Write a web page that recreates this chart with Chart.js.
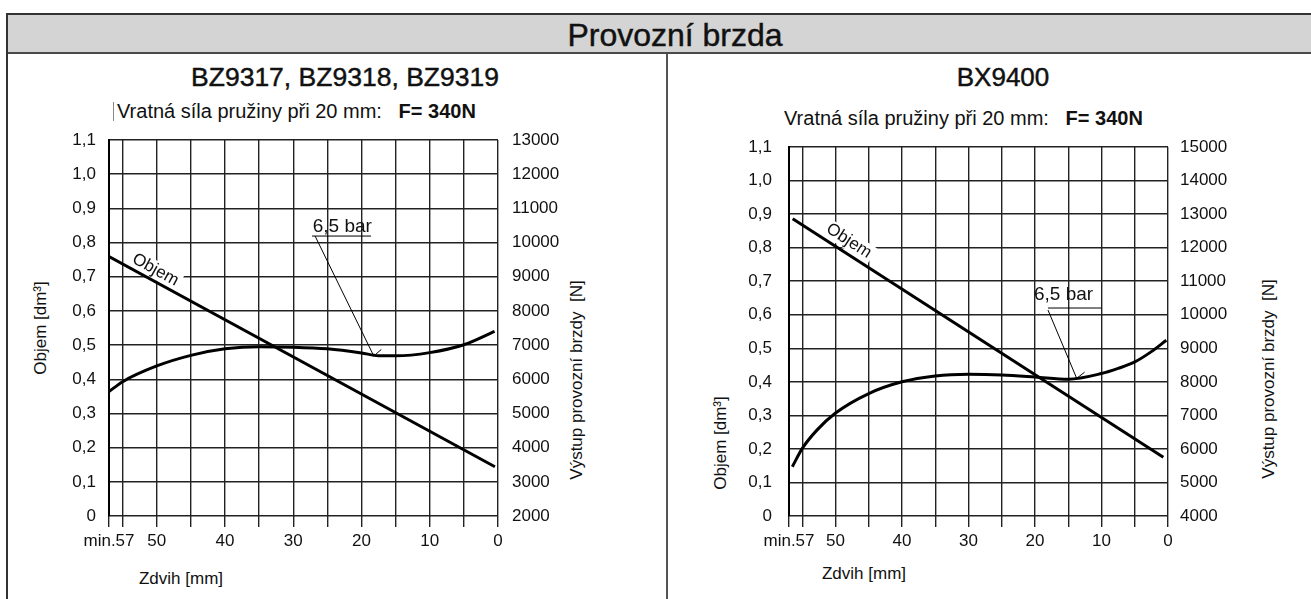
<!DOCTYPE html>
<html lang="cs">
<head>
<meta charset="utf-8">
<title>Provozní brzda</title>
<script src="https://cdn.jsdelivr.net/npm/chart.js@4.4.1/dist/chart.umd.min.js"></script>
<style>
  html, body { margin: 0; padding: 0; background: #fff; }
  body { width: 1311px; height: 599px; position: relative; overflow: hidden;
         font-family: "Liberation Sans", Arial, sans-serif; color: #111; }
  .frame { position: absolute; left: 6px; top: 13px; width: 1400px; height: 700px;
           border-left: 2px solid #333; border-top: 2px solid #333; }
  .head { position: absolute; left: 8px; top: 15px; width: 1400px; height: 37px;
          background: #d4d4d4; border-bottom: 2px solid #4a4a4a; }
  .divider { position: absolute; left: 666px; top: 54px; width: 2px; height: 600px; background: #555; }
  .t { position: absolute; white-space: pre; line-height: 1; }
  .c { transform: translate(-50%, -50%); }
  .v { transform: translate(-50%, -50%) rotate(-90deg); }
  .l { transform: translate(0, -50%); }
  .title { font-weight: normal; -webkit-text-stroke: 0.45px #111; }
  .axt { font-size: 17px; }
  .sub { font-size: 20px; }
  .sub b { font-weight: bold; }
  canvas { position: absolute; left: 0; top: 0; }
</style>
</head>
<body>
<div class="frame"></div>
<div class="head"></div>
<div class="divider"></div>

<div class="t c title" style="left:675px; top:35px; font-size:32px;">Provozní brzda</div>

<div class="t c title" style="left:345px; top:77px; font-size:26.5px;">BZ9317, BZ9318, BZ9319</div>
<div style="position:absolute; left:113px; top:102px; width:1px; height:19px; background:#888;"></div>
<div class="t l sub" style="left:117px; top:111px;">Vratná síla pružiny při 20 mm:   <b>F= 340N</b></div>

<div class="t c title" style="left:1003px; top:77px; font-size:26px;">BX9400</div>
<div class="t l sub" style="left:784px; top:118px;">Vratná síla pružiny při 20 mm:   <b>F= 340N</b></div>

<div class="t v axt" style="left:40px; top:328px;">Objem [dm³]</div>
<div class="t v axt" style="left:576px; top:380px;">Výstup provozní brzdy  [N]</div>
<div class="t c axt" style="left:181px; top:578px;">Zdvih [mm]</div>

<div class="t v axt" style="left:720px; top:443px;">Objem [dm³]</div>
<div class="t v axt" style="left:1268px; top:379px;">Výstup provozní brzdy  [N]</div>
<div class="t c axt" style="left:864px; top:573px;">Zdvih [mm]</div>

<canvas id="bz" width="1311" height="599"></canvas>
<canvas id="bx" width="1311" height="599"></canvas>

<script>
// ---- shared axis ticks ----
const STROKE_TICKS  = [57, 55, 50, 45, 40, 35, 30, 25, 20, 15, 10, 5, 0];
const STROKE_LABELS = ['min.57', '', '50', '', '40', '', '30', '', '20', '', '10', '', '0'];
const VOLUME_TICKS  = [0, 0.1, 0.2, 0.3, 0.4, 0.5, 0.6, 0.7, 0.8, 0.9, 1.0, 1.1];
const VOLUME_LABELS = ['0', '0,1', '0,2', '0,3', '0,4', '0,5', '0,6', '0,7', '0,8', '0,9', '1,0', '1,1'];
const FORCE_TICKS_BZ = [2000, 3000, 4000, 5000, 6000, 7000, 8000, 9000, 10000, 11000, 12000, 13000];
const FORCE_TICKS_BX = [4000, 5000, 6000, 7000, 8000, 9000, 10000, 11000, 12000, 13000, 14000, 15000];

// ---- BZ9317, BZ9318, BZ9319 ----
const BZ_VOLUME_STROKE = [57, 0.45];          // mm
const BZ_VOLUME        = [0.759, 0.144];      // dm³
const BZ_FORCE_STROKE  = [57, 55, 50, 45, 40, 35, 30, 25, 20, 17.5, 15, 10, 5, 0.5];
const BZ_FORCE         = [5640, 5930, 6390, 6700, 6890, 6955, 6940, 6890, 6770, 6690, 6685, 6780, 7010, 7400];

// ---- BX9400 ----
const BX_VOLUME_STROKE = [56.45, 0.7];
const BX_VOLUME        = [0.886, 0.175];
const BX_FORCE_STROKE  = [56.5, 55, 52.8, 50, 45, 40, 35, 30, 25, 20, 15, 10, 7.5, 5, 2.5, 0.25];
const BX_FORCE         = [5470, 6015, 6560, 7070, 7650, 8000, 8175, 8225, 8205, 8146, 8078, 8247, 8400, 8592, 8900, 9240];

const FONT = '"Liberation Sans", Arial, sans-serif';
const INK = '#111';
const GRID = '#222';

const toPoints = (xs, ys) => xs.map((x, i) => ({ x, y: ys[i] }));

// Text labels, the "6,5 bar" callout and its leader, drawn on top of the grid
const notesPlugin = {
  id: 'notes',
  beforeDatasetsDraw(chart, args, o) {
    const { ctx, scales: { x, y } } = chart;
    const meta = chart.getDatasetMeta(0).data;
    const ang = Math.atan2(meta[meta.length - 1].y - meta[0].y, meta[meta.length - 1].x - meta[0].x);
    ctx.save();
    ctx.translate(x.getPixelForValue(o.objem.x), y.getPixelForValue(o.objem.y));
    ctx.rotate(ang);
    ctx.font = '17px ' + FONT;
    const w = ctx.measureText('Objem').width;
    ctx.fillStyle = '#fff';
    ctx.fillRect(-w / 2 - 3, -9, w + 6, 18);
    ctx.restore();
  },
  afterDatasetsDraw(chart, args, o) {
    const { ctx, scales: { x, y, y2 } } = chart;
    const meta = chart.getDatasetMeta(0).data;
    const ang = Math.atan2(meta[meta.length - 1].y - meta[0].y, meta[meta.length - 1].x - meta[0].x);
    ctx.save();
    // "Objem" along the volume line
    ctx.save();
    ctx.translate(x.getPixelForValue(o.objem.x), y.getPixelForValue(o.objem.y));
    ctx.rotate(ang);
    ctx.font = '17px ' + FONT;
    ctx.fillStyle = INK;
    ctx.textAlign = 'center';
    ctx.textBaseline = 'middle';
    ctx.fillText('Objem', 0, 0);
    ctx.restore();

    // "6,5 bar" callout
    ctx.font = '19px ' + FONT;
    ctx.fillStyle = INK;
    ctx.textAlign = 'left';
    ctx.textBaseline = 'middle';
    ctx.fillText('6,5 bar', x.getPixelForValue(o.bar.x), y.getPixelForValue(o.bar.y));

    ctx.strokeStyle = '#000';
    ctx.lineWidth = 1;
    const uy = y.getPixelForValue(o.under.y);
    ctx.beginPath();
    ctx.moveTo(x.getPixelForValue(o.under.x1), uy);
    ctx.lineTo(x.getPixelForValue(o.under.x2), uy);
    ctx.stroke();

    const sx = x.getPixelForValue(o.leader.x1), sy = y.getPixelForValue(o.leader.y1);
    const ex = x.getPixelForValue(o.leader.x2), ey = y2.getPixelForValue(o.leader.f2);
    ctx.beginPath();
    ctx.moveTo(sx, sy);
    ctx.lineTo(ex, ey);
    ctx.stroke();
    const back = Math.atan2(sy - ey, sx - ex);
    const barb = back + 75 * Math.PI / 180;
    ctx.beginPath();
    ctx.moveTo(ex, ey);
    ctx.lineTo(ex + 10 * Math.cos(barb), ey + 10 * Math.sin(barb));
    ctx.stroke();
    ctx.restore();
  }
};

function makeChart(id, d) {
  const tickFont = { family: FONT, size: 17 };
  return new Chart(document.getElementById(id), {
    type: 'scatter',
    data: {
      datasets: [
        { data: toPoints(d.volStroke, d.vol), yAxisID: 'y', showLine: true, borderColor: '#000',
          borderWidth: 3, pointRadius: 0, tension: 0, fill: false },
        { data: toPoints(d.forceStroke, d.force), yAxisID: 'y2', showLine: true, borderColor: '#000',
          borderWidth: 3, pointRadius: 0, cubicInterpolationMode: 'monotone', fill: false }
      ]
    },
    options: {
      responsive: false,
      animation: false,
      devicePixelRatio: 1,
      events: [],
      layout: { padding: { top: d.area.top, left: 0, right: 0, bottom: 0 } },
      plugins: {
        legend: { display: false },
        tooltip: { enabled: false },
        notes: d.notes
      },
      scales: {
        x: {
          type: 'linear', reverse: true, min: 0, max: 57,
          afterBuildTicks: s => { s.ticks = STROKE_TICKS.map(v => ({ value: v })); },
          afterFit: s => { s.height = 599 - d.area.bottom; },
          ticks: { autoSkip: false, maxRotation: 0, minRotation: 0, padding: 4, color: INK, font: tickFont,
                   callback: v => STROKE_LABELS[STROKE_TICKS.indexOf(v)] ?? '' },
          grid: { color: GRID, lineWidth: 1.4, tickLength: 11, drawTicks: true },
          border: { display: false }
        },
        y: {
          type: 'linear', position: 'left', min: 0, max: 1.1,
          afterBuildTicks: s => { s.ticks = VOLUME_TICKS.map(v => ({ value: v })); },
          afterFit: s => { s.width = d.area.left; },
          ticks: { padding: d.padL, color: INK, font: tickFont,
                   callback: v => VOLUME_LABELS[VOLUME_TICKS.indexOf(v)] ?? '' },
          grid: { color: GRID, lineWidth: 1.4, drawTicks: false },
          border: { display: true, color: '#000', width: 2 }
        },
        y2: {
          type: 'linear', position: 'right', min: d.forceTicks[0], max: d.forceTicks[d.forceTicks.length - 1],
          afterBuildTicks: s => { s.ticks = d.forceTicks.map(v => ({ value: v })); },
          afterFit: s => { s.width = 1311 - d.area.right; },
          ticks: { padding: d.padR, color: INK, font: tickFont, callback: v => String(v) },
          grid: { display: false, drawTicks: false },
          border: { display: false }
        }
      }
    },
    plugins: [notesPlugin]
  });
}

makeChart('bz', {
  volStroke: BZ_VOLUME_STROKE, vol: BZ_VOLUME,
  forceStroke: BZ_FORCE_STROKE, force: BZ_FORCE,
  forceTicks: FORCE_TICKS_BZ,
  area: { left: 109, right: 498, top: 140, bottom: 516 },
  padL: 13, padR: 14,
  notes: {
    objem: { x: 50.2, y: 0.72 },
    bar: { x: 27.15, y: 0.846 },
    under: { x1: 27.25, x2: 18.6, y: 0.819 },
    leader: { x1: 26.8, y1: 0.819, x2: 18.2, f2: 6681 }
  }
});

makeChart('bx', {
  volStroke: BX_VOLUME_STROKE, vol: BX_VOLUME,
  forceStroke: BX_FORCE_STROKE, force: BX_FORCE,
  forceTicks: FORCE_TICKS_BX,
  area: { left: 789, right: 1168, top: 147, bottom: 516 },
  padL: 17, padR: 12,
  notes: {
    objem: { x: 48.0, y: 0.82 },
    bar: { x: 20.15, y: 0.659 },
    under: { x1: 18.05, x2: 9.97, y: 0.62 },
    leader: { x1: 18.05, y1: 0.614, x2: 13.73, f2: 8104 }
  }
});
</script>
</body>
</html>
